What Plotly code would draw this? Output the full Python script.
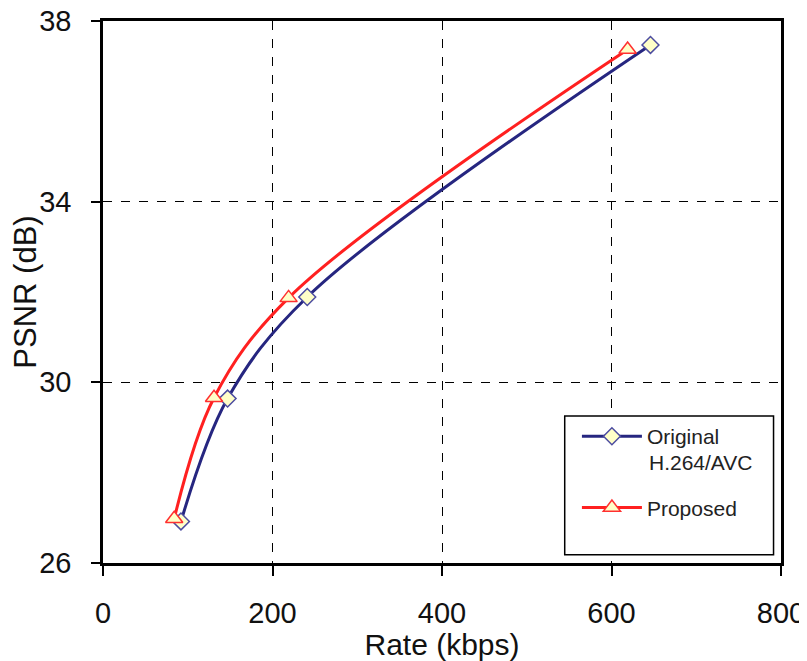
import plotly.graph_objects as go

orig_rate = [92, 147, 241, 646]
orig_psnr = [26.92, 29.64, 31.89, 37.47]
prop_rate = [84, 131, 219, 619]
prop_psnr = [26.98, 29.66, 31.87, 37.37]

x_ticks = [0, 200, 400, 600, 800]
y_ticks = [26, 30, 34, 38]

FONT = "Liberation Sans, Arial, sans-serif"

fig = go.Figure()
fig.add_trace(go.Scatter(
    x=orig_rate, y=orig_psnr, name="Original", legendgroup="a",
    mode="lines+markers", line=dict(color="#262680", width=3, shape="spline", smoothing=1.0),
    marker=dict(symbol="diamond", size=13, color="#FFFFC8", line=dict(color="#4C4CA0", width=1.5)),
))
fig.add_trace(go.Scatter(
    x=prop_rate, y=prop_psnr, name="Proposed", legendgroup="b",
    mode="lines+markers", line=dict(color="#FF2020", width=3, shape="spline", smoothing=1.0),
    marker=dict(symbol="triangle-up", size=15, color="#FFFFC8", line=dict(color="#FF3030", width=1.5)),
))

fig.add_shape(type="rect", xref="paper", yref="paper", x0=0.681, x1=0.989, y0=0.015, y1=0.271,
              line=dict(color="black", width=1.5), fillcolor="white", layer="above")
fig.add_annotation(text="H.264/AVC", xref="paper", yref="paper", x=0.802, y=0.186,
                   xanchor="left", yanchor="middle", showarrow=False,
                   font=dict(size=21, family=FONT, color="#222222"))

fig.update_layout(
    width=799, height=653,
    margin=dict(l=95, r=26, t=13, b=98),
    paper_bgcolor="white", plot_bgcolor="white",
    font=dict(family=FONT, color="#111111"),
    showlegend=True,
    legend=dict(x=0.699, y=0.271, xanchor="left", yanchor="top", bgcolor="rgba(0,0,0,0)",
                borderwidth=0, font=dict(size=21, family=FONT, color="#222222"),
                tracegroupgap=41, itemwidth=60),
)
fig.update_xaxes(
    range=[0, 800], tickvals=x_ticks, ticks="outside", ticklen=10, tickwidth=1.5, tickcolor="black",
    showline=True, linecolor="black", linewidth=2.5, mirror=True,
    showgrid=True, gridcolor="black", griddash="dash", gridwidth=1,
    tickfont=dict(size=29, family=FONT), ticklabelstandoff=12, ticklabeloverflow="allow",
    title=dict(text="Rate (kbps)", font=dict(size=30, family=FONT), standoff=2),
    zeroline=False, automargin=False,
)
fig.update_yaxes(
    range=[26, 38], tickvals=y_ticks, ticks="outside", ticklen=9, tickwidth=1.5, tickcolor="black",
    showline=True, linecolor="black", linewidth=2.5, mirror=True,
    showgrid=True, gridcolor="black", griddash="dash", gridwidth=1,
    tickfont=dict(size=29, family=FONT), ticklabelstandoff=14, ticklabeloverflow="allow",
    title=dict(text="PSNR (dB)", font=dict(size=31, family=FONT), standoff=0),
    zeroline=False, automargin=False,
)
fig.write_html("out.html")
